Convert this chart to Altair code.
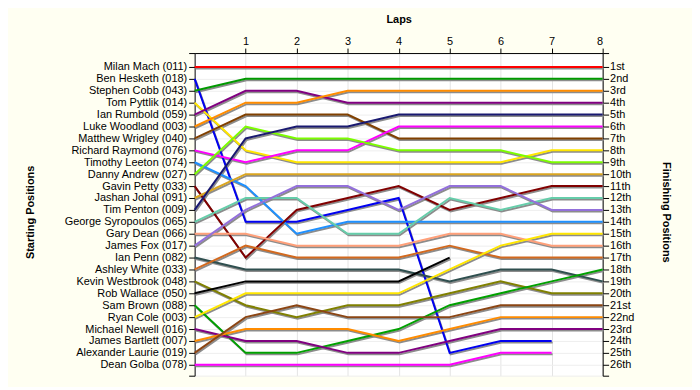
import json
import altair as alt
import pandas as pd

drivers = [
    "Milan Mach (011)", "Ben Hesketh (018)", "Stephen Cobb (043)", "Tom Pyttlik (014)",
    "Ian Rumbold (059)", "Luke Woodland (003)", "Matthew Wrigley (040)", "Richard Raymond (076)",
    "Timothy Leeton (074)", "Danny Andrew (027)", "Gavin Petty (033)", "Jashan Johal (091)",
    "Tim Penton (009)", "George Syropoulos (065)", "Gary Dean (066)", "James Fox (017)",
    "Ian Penn (082)", "Ashley White (033)", "Kevin Westbrook (048)", "Rob Wallace (050)",
    "Sam Brown (088)", "Ryan Cole (003)", "Michael Newell (016)", "James Bartlett (007)",
    "Alexander Laurie (019)", "Dean Golba (078)",
]

finish_labels = [
    "1st", "2nd", "3rd", "4th", "5th", "6th", "7th", "8th", "9th", "10th", "11th", "12th", "13th",
    "14th", "15th", "16th", "17th", "18th", "19th", "20th", "21st", "22nd", "23rd", "24th",
    "25th", "26th",
]

colors = [
    "#FF0000", "#0000F0", "#009900", "#FFE600", "#800080", "#FF8C00", "#804000", "#FF00FF",
    "#1E90FF", "#7CFC00", "#800000", "#DAA520", "#191970", "#66CDAA", "#FFA07A", "#9370DB",
    "#2F4F4F", "#D2691E", "#808000", "#000000", "#00A000", "#FFE600", "#800080", "#FF8C00",
    "#8B4513", "#FF00FF",
]

laps = [0, 1, 2, 3, 4, 5, 6, 7, 8]

# position of each driver at the end of each lap (None = retired)
positions = [
    [1, 1, 1, 1, 1, 1, 1, 1, 1],
    [2, 14, 14, 13, 12, 25, 24, 24, None],
    [3, 2, 2, 2, 2, 2, 2, 2, 2],
    [4, 8, 9, 9, 9, 9, 9, 8, 8],
    [5, 3, 3, 4, 4, 4, 4, 4, 4],
    [6, 4, 4, 3, 3, 3, 3, 3, 3],
    [7, 5, 5, 5, 7, 7, 7, 7, 7],
    [8, 9, 8, 8, 6, 6, 6, 6, 6],
    [9, 11, 15, 14, 14, 14, 14, 14, 14],
    [10, 6, 7, 7, 8, 8, 8, 9, 9],
    [11, 17, 13, 12, 11, 13, 12, 11, 11],
    [12, 10, 10, 10, 10, 10, 10, 10, 10],
    [13, 7, 6, 6, 5, 5, 5, 5, 5],
    [14, 12, 12, 15, 15, 12, 13, 12, 12],
    [15, 15, 16, 16, 16, 15, 15, 16, 16],
    [16, 13, 11, 11, 13, 11, 11, 13, 13],
    [17, 18, 18, 18, 18, 19, 18, 18, 19],
    [18, 16, 17, 17, 17, 16, 17, 17, 17],
    [19, 21, 22, 21, 21, 20, 19, 20, 20],
    [20, 19, 19, 19, 19, 17, None, None, None],
    [21, 25, 25, 24, 23, 21, 20, 19, 18],
    [22, 20, 20, 20, 20, 18, 16, 15, 15],
    [23, 24, 24, 25, 25, 24, 23, 23, 23],
    [24, 23, 23, 23, 24, 23, 22, 22, 22],
    [25, 22, 21, 22, 22, 22, 21, 21, 21],
    [26, 26, 26, 26, 26, 26, 25, 25, None],
]

rows = []
for i, (d, plist) in enumerate(zip(drivers, positions)):
    for lap, pos in zip(laps, plist):
        if pos is not None:
            rows.append({"driver": d, "idx": i, "lap": lap, "pos": pos})
df = pd.DataFrame(rows)

FONT = "Liberation Sans"
ymin, ymax = -0.1667, 26.9167
yvals = [ymin] + list(range(1, 27)) + [ymax]

left_expr = (
    "datum.value >= 1 && datum.value <= 26 ? "
    + json.dumps(drivers) + "[round(datum.value) - 1] : ''"
)
right_expr = (
    "datum.value >= 1 && datum.value <= 26 ? "
    + json.dumps(finish_labels) + "[round(datum.value) - 1] : ''"
)

x_enc = alt.X(
    "lap:Q",
    scale=alt.Scale(domain=[0, 8], nice=False, zero=False),
    axis=alt.Axis(
        orient="top", values=[1, 2, 3, 4, 5, 6, 7, 8], title="Laps",
        grid=True, gridColor="#E4E4E4", gridWidth=1,
        domainColor="black", tickColor="black", tickSize=5,
        labelFont=FONT, labelFontSize=11, labelColor="black", labelPadding=2,
        titleFont=FONT, titleFontSize=11, titleFontWeight="bold", titleColor="black",
        titleY=-34, titleBaseline="middle",
    ),
)

yscale = alt.Scale(domain=[ymin, ymax], reverse=True, nice=False, zero=False)

shadow = alt.Chart(df).mark_line(
    color="#8C8C8C", strokeWidth=2, xOffset=1, yOffset=1.5
).encode(
    x=x_enc,
    y=alt.Y(
        "pos:Q", scale=yscale,
        axis=alt.Axis(
            orient="left", values=yvals, labelExpr=left_expr, title="Starting Positions",
            grid=True, gridColor="#EEEEEE", gridWidth=1,
            domainColor="black", tickColor="black", tickSize=6,
            labelFont=FONT, labelFontSize=11, labelColor="black", labelPadding=2,
            labelOverlap=False, labelBound=False,
            titleFont=FONT, titleFontSize=11, titleFontWeight="bold", titleColor="black",
            titleX=-165, titleY=160, titleBaseline="middle", titleAngle=270,
        ),
    ),
    detail="driver:N",
    order="lap:Q",
)

lines = alt.Chart(df).mark_line(strokeWidth=2).encode(
    x=x_enc,
    y=alt.Y(
        "pos:Q", scale=yscale,
        axis=alt.Axis(
            orient="right", values=yvals, labelExpr=right_expr, title="Finishing Positions",
            grid=False,
            domainColor="black", tickColor="black", tickSize=6,
            labelFont=FONT, labelFontSize=11, labelColor="black", labelPadding=1,
            labelOverlap=False, labelBound=False,
            titleFont=FONT, titleFontSize=11, titleFontWeight="bold", titleColor="black",
            titleX=63, titleY=160, titleBaseline="middle", titleAngle=90,
        ),
    ),
    color=alt.Color("driver:N", scale=alt.Scale(domain=drivers, range=colors), legend=None),
    order="lap:Q",
)

chart = (
    alt.layer(shadow, lines)
    .resolve_scale(y="independent")
    .properties(
        width=411, height=325,
        autosize=alt.AutoSizeParams(type="none"),
        padding={"left": 188, "top": 44, "right": 90, "bottom": 10},
        background="#FFFFF2",
    )
    .configure_view(stroke=None, fill="white")
)

chart.save("out.html", embed_options={"renderer": "svg", "actions": False})
